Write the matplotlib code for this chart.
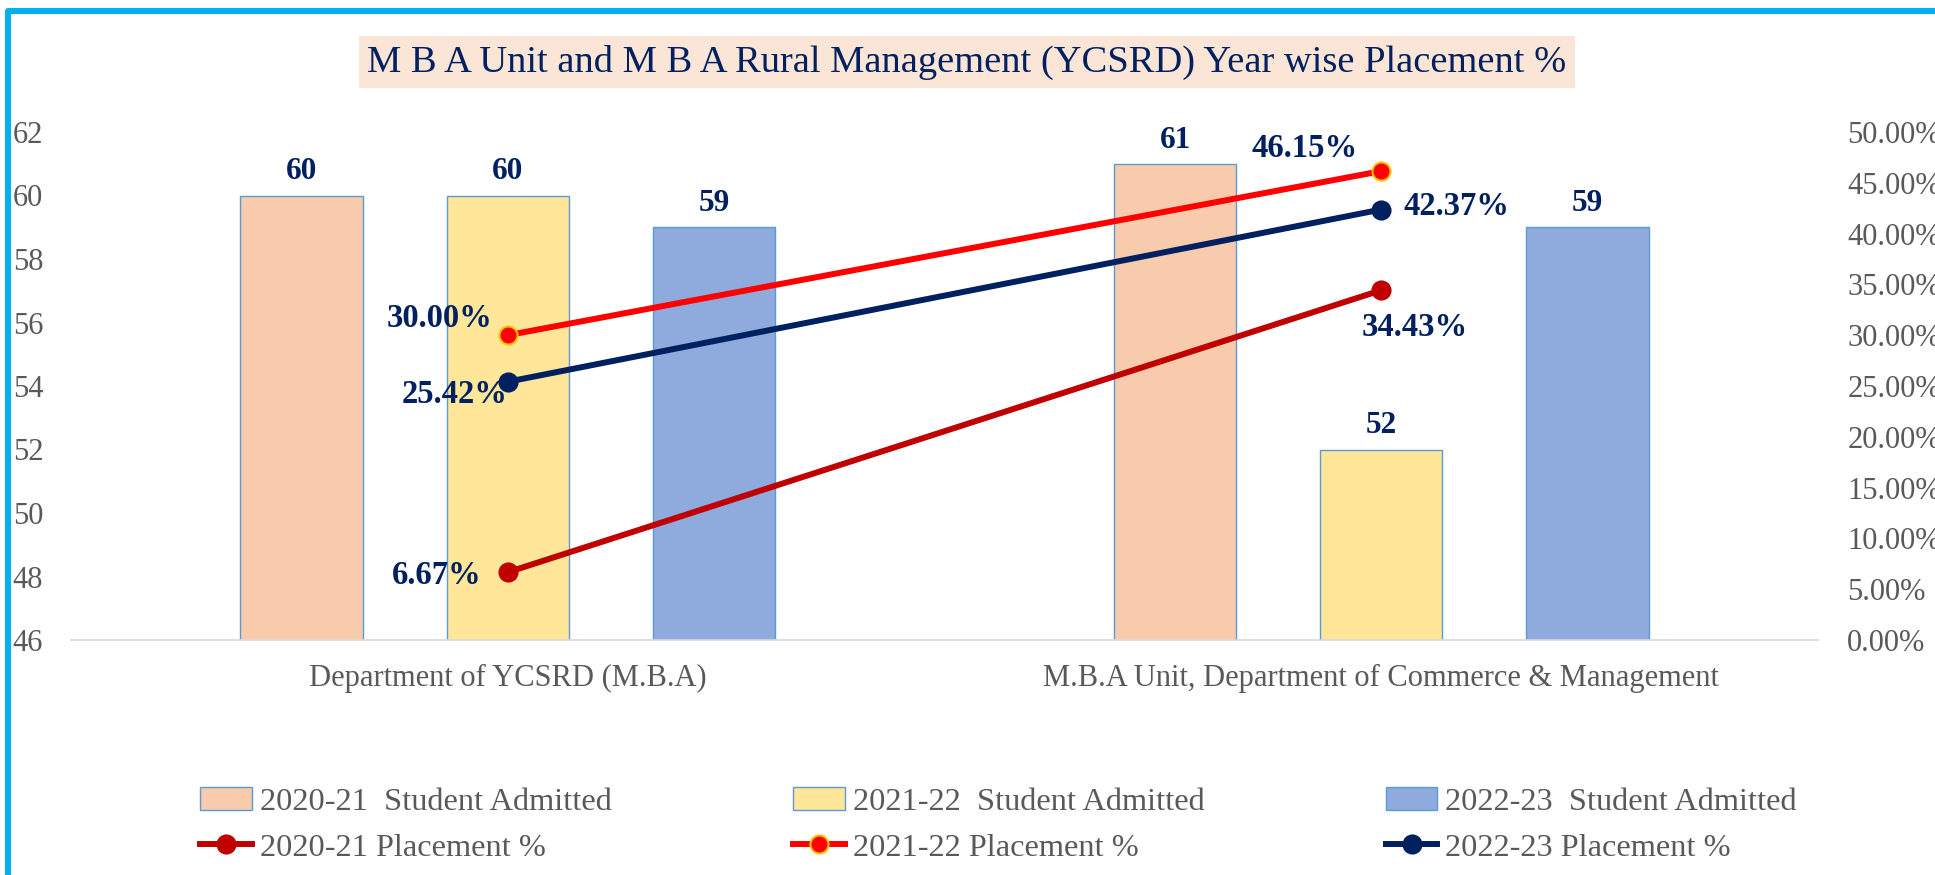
import numpy as np
import matplotlib
matplotlib.use("Agg")
import matplotlib.pyplot as plt
from matplotlib.ticker import PercentFormatter
from matplotlib.lines import Line2D

plt.rcParams['font.family'] = ['Liberation Serif', 'DejaVu Serif']

# data
departments = ["Department of YCSRD (M.B.A)",
               "M.B.A Unit, Department of Commerce & Management"]
years = ["2020-21", "2021-22", "2022-23"]
admitted_2020 = [60, 61]
admitted_2021 = [60, 52]
admitted_2022 = [59, 59]
placement_2020 = [6.67, 34.43]
placement_2021 = [30.00, 46.15]
placement_2022 = [25.42, 42.37]

navy = '#002060'
grey = '#595959'
bar_colors = ['#F8CBAD', '#FFE699', '#8FAADC']
line_colors = ['#C00000', '#FF0000', navy]

fig = plt.figure(figsize=(19.35, 8.75), dpi=100)
ax = fig.add_axes([71/1935, 1-640/875, (1818-71)/1935, (640-132)/875])

x = np.arange(len(departments))
width = 0.14
offsets = [-0.236, 0, 0.236]
admitted = [admitted_2020, admitted_2021, admitted_2022]

bars = []
for i, vals in enumerate(admitted):
    b = ax.bar(x + offsets[i], vals, width, bottom=0, color=bar_colors[i],
               edgecolor='#5B9BD5', linewidth=1.0,
               label=f"{years[i]}  Student Admitted", zorder=2)
    bars.append(b)
    for xi, v in zip(x + offsets[i], vals):
        ax.annotate(str(v), (xi, v), xytext=(0, 17), textcoords='offset points',
                    ha='center', va='center', fontsize=22.5, fontweight='bold',
                    color=navy)

ax.set_ylim(46, 62)
ax.set_yticks(np.arange(46, 63, 2))
ax.set_xlim(-0.5, 1.5)
ax.set_xticks(x)
ax.set_xticklabels(departments)
ax.tick_params(axis='y', length=0, pad=20, labelsize=22, labelcolor=grey)
ax.tick_params(axis='x', length=0, pad=17, labelsize=22, labelcolor=grey)
for s in ['top', 'right', 'left']:
    ax.spines[s].set_visible(False)
ax.spines['bottom'].set_color('#D9D9D9')
ax.spines['bottom'].set_linewidth(1.2)

ax2 = ax.twinx()
ax2.set_ylim(0, 50)
ax2.set_yticks(np.arange(0, 51, 5))
ax2.yaxis.set_major_formatter(PercentFormatter(decimals=2))
ax2.tick_params(axis='y', length=0, pad=21, labelsize=22, labelcolor=grey)
for s in ax2.spines.values():
    s.set_visible(False)

placements = [placement_2020, placement_2021, placement_2022]
label_offsets = [[(-51, -2), (24, -27)],
                 [(-49, 12), (-55, 16)],
                 [(-38, -9), (54, 2)]]
lines = []
for i, vals in enumerate(placements):
    mec = '#FFC000' if i == 1 else line_colors[i]
    ln, = ax2.plot(x, vals, color=line_colors[i], linewidth=4.3, marker='o',
                   markersize=13, markerfacecolor=line_colors[i],
                   markeredgecolor=mec, markeredgewidth=1.5,
                   label=f"{years[i]} Placement %", zorder=3)
    lines.append(ln)
    for xi, v, off in zip(x, vals, label_offsets[i]):
        ax2.annotate(f"{v:.2f}%", (xi, v), xytext=off, textcoords='offset points',
                     ha='center', va='center', fontsize=23.5, fontweight='bold',
                     color=navy)

# title in a shaded box
fig.text(967/1935, 1-62/875,
         "M B A Unit and M B A Rural Management (YCSRD) Year wise Placement %",
         ha='center', va='center', fontsize=27.7, color=navy,
         bbox=dict(facecolor='#FBE5D6', edgecolor='none', pad=6.5))

handles = [bars[0], lines[0], bars[1], lines[1], bars[2], lines[2]]
leg = fig.legend(handles=handles, labels=[h.get_label() for h in handles],
                 loc='center', bbox_to_anchor=(0.516, 1-825/875), ncol=3,
                 frameon=False, fontsize=23.3, handlelength=1.6,
                 handletextpad=0.25, columnspacing=5.6, labelspacing=0.5,
                 borderpad=0)
for t in leg.get_texts():
    t.set_color(grey)

# cyan frame (only left and top visible in the crop)
fig.add_artist(Line2D([8/1935, 8/1935, 1.01], [-0.01, 1-11/875, 1-11/875],
                      transform=fig.transFigure, color='#00B0F0', linewidth=4.3,
                      solid_joinstyle='round'))

fig.savefig('out.png', dpi=100)
